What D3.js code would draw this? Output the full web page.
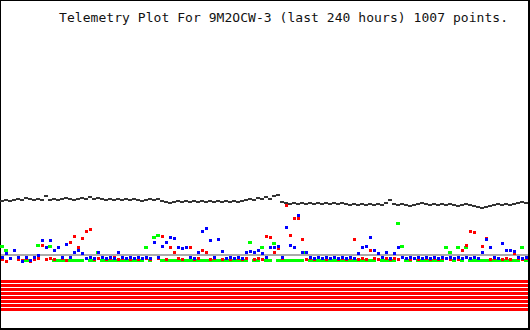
<!DOCTYPE html>
<html>
<head>
<meta charset="utf-8">
<script src="https://cdn.jsdelivr.net/npm/d3@7"></script>
<style>
  body { margin: 0; background: #fff; }
  svg { display: block; }
</style>
</head>
<body>
<svg id="chart" width="530" height="330"></svg>
<script>
const TITLE = "Telemetry Plot For 9M2OCW-3 (last 240 hours) 1007 points.";

// analog channels, raw counts, one sample every ~1.8 h
const chan1 = [61,62,61,62,63,62,64,63,62,63,
  62,66,62,63,62,63,64,63,62,63,
  64,63,65,63,64,63,62,63,62,63,
  62,63,62,63,62,61,62,63,62,63,
  61,60,59,60,61,60,61,60,61,60,
  61,60,61,60,61,60,61,60,61,60,
  61,62,63,62,64,63,65,63,66,67,
  60,59,58,59,58,59,58,59,58,59,
  58,59,58,59,58,59,58,57,58,57,
  58,57,58,57,58,57,59,62,58,57,
  58,57,56,57,58,59,58,57,58,57,
  58,57,58,57,56,57,58,57,56,55,
  54,55,56,57,58,57,58,57,58,59,
  60,59];

const chan2 = [5,9,4,12,5,1,5,2,5,6,
  21,14,21,12,14,5,18,5,10,12,
  9,4,5,4,10,5,4,5,4,10,
  5,4,5,4,5,4,5,4,20,5,
  16,20,25,24,15,13,14,5,4,10,
  30,34,21,5,22,11,4,5,4,5,
  4,10,11,10,12,9,5,15,15,16,
  5,35,17,15,47,10,10,5,4,5,
  4,5,4,5,4,5,4,5,4,9,
  14,16,25,12,9,5,10,4,9,15,
  5,4,5,4,5,4,5,4,5,4,
  5,4,5,4,5,4,5,4,5,4,
  10,22,14,5,4,19,12,12,11,5,
  4,5];

const chan3 = [3,1,4,null,3,2,4,1,3,4,
  17,3,4,3,15,4,2,20,26,14,
  24,30,33,3,4,null,3,4,5,3,
  4,null,3,4,3,null,4,3,null,4,
  26,3,14,10,4,3,null,15,3,4,
  12,10,3,4,null,3,4,3,null,4,
  3,4,null,3,4,3,26,25,10,13,
  4,57,27,44,44,22,3,4,3,null,
  4,3,4,null,3,4,3,4,22,3,
  4,3,12,4,3,null,4,3,4,3,
  null,4,3,4,3,null,4,3,4,3,
  4,null,3,4,3,12,17,31,29,4,
  16,24,3,4,null,3,4,3,9,4,
  3,4];

const chan4 = [16,12,null,null,null,null,2,2,null,17,
  null,null,16,2,2,2,2,2,2,2,
  2,null,2,2,10,2,2,2,2,2,
  2,2,2,2,2,2,14,2,25,27,
  2,2,2,2,2,2,2,2,2,2,
  2,2,2,2,2,2,2,2,2,2,
  2,2,20,2,2,15,2,2,19,2,
  2,2,2,2,2,2,10,2,2,2,
  2,2,2,2,2,2,2,2,2,2,
  2,2,2,2,null,2,2,2,2,39,
  16,2,2,null,2,2,2,2,2,2,
  2,15,10,2,14,2,14,2,2,2,
  2,2,2,2,2,2,2,2,2,2,
  14,2];

const chan5 = 7;                       // flat channel
const bits = [1,1,1,1,1,1,1,1];        // digital bits B1..B8

const svg = d3.select("#chart");
const W = 530, H = 330;

const x = d3.scaleLinear().domain([0, chan1.length - 1]).range([2, 526]);
const y = d3.scaleLinear().domain([0, 255]).range([262, 7]);
const yBit = d3.scaleLinear().domain([0, 8]).range([280, 312]);

// frame
svg.append("rect").attr("width", W).attr("height", H).attr("fill", "#000");
svg.append("rect").attr("x", 1).attr("y", 1)
    .attr("width", 527).attr("height", 327).attr("fill", "#fff");

const plot = svg.append("g").attr("shape-rendering", "crispEdges");

// digital bits
plot.selectAll("rect.bit")
    .data(bits.map((b, i) => ({b, i})).filter(d => d.b))
    .join("rect")
    .attr("class", "bit")
    .attr("x", 1).attr("width", 527)
    .attr("y", d => yBit(d.i)).attr("height", 3)
    .attr("fill", "#ff0000");

// flat channel
plot.append("rect")
    .attr("x", 1).attr("width", 527)
    .attr("y", y(chan5) - 1).attr("height", 2)
    .attr("fill", "#aaaaaa");

function dots(values, color, w, h) {
    plot.append("g")
        .selectAll("rect")
        .data(values.map((v, i) => ({v, i})).filter(d => d.v != null))
        .join("rect")
        .attr("x", d => x(d.i) - w / 2)
        .attr("y", d => Math.round(y(d.v) - h / 2))
        .attr("width", w)
        .attr("height", h)
        .attr("fill", color);
}

dots(chan1, "#333333", 4, 2);
dots(chan4, "#00ff00", 4, 3);
dots(chan3, "#ff0000", 3, 3);
dots(chan2, "#0000ff", 3, 3);

// title
svg.append("text")
    .attr("x", 59).attr("y", 21.5)
    .attr("font-family", "DejaVu Sans Mono")
    .attr("font-size", "13px")
    .attr("textLength", 449)
    .attr("lengthAdjust", "spacing")
    .attr("fill", "#111")
    .text(TITLE);
</script>
</body>
</html>
